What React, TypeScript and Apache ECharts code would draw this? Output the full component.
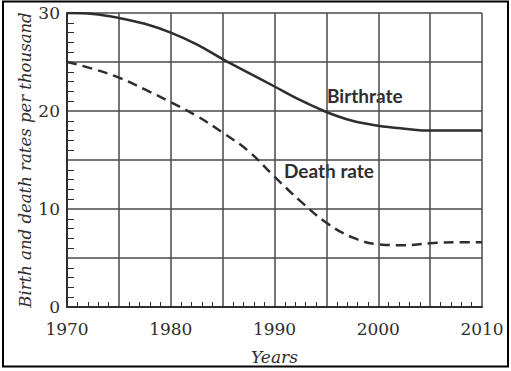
import React, { useEffect, useRef } from "react";
import * as echarts from "echarts";

const years = [1970, 1972.5, 1975, 1977.5, 1980, 1982.5, 1985, 1987.5, 1990, 1992.5, 1995, 1997.5, 2000, 2002.5, 2005, 2007.5, 2010];
const birthRate = [30, 29.9, 29.5, 28.9, 28.0, 26.8, 25.3, 23.9, 22.5, 21.1, 19.9, 19.0, 18.5, 18.2, 18.0, 18.0, 18.0];
const deathRate = [25, 24.3, 23.4, 22.2, 20.9, 19.5, 17.8, 15.9, 13.3, 10.8, 8.6, 7.1, 6.4, 6.3, 6.5, 6.6, 6.6];
const seriesNames = ["Birthrate", "Death rate"];
const xTitle = "Years";
const yTitle = "Birth and death rates per thousand";

export default function App() {
  const ref = useRef<HTMLDivElement>(null);
  useEffect(() => {
    if (!ref.current) return;
    const chart = echarts.init(ref.current, null, { renderer: "svg" });
    const ink = "#2e2e2e";
    const grid = "#4a4a4a";
    const serif = "DejaVu Serif";
    chart.setOption({
      animation: false,
      backgroundColor: "#ffffff",
      grid: { left: 67, right: 29, top: 13, bottom: 64 },
      xAxis: {
        type: "value",
        min: 1970,
        max: 2010,
        interval: 5,
        name: xTitle,
        nameLocation: "middle",
        nameGap: 41,
        nameMoveOverlap: false,
        nameTextStyle: { fontFamily: serif, fontStyle: "italic", fontSize: 17, color: ink },
        axisLine: { show: true, lineStyle: { color: ink, width: 2 } },
        axisTick: { show: false },
        minorTick: { show: true, splitNumber: 5, length: -5, lineStyle: { color: ink, width: 1 } },
        axisLabel: {
          fontFamily: serif,
          fontSize: 17,
          color: ink,
          margin: 13,
          formatter: (v: number) => (v % 10 === 0 ? String(v) : ""),
        },
        splitLine: { show: true, lineStyle: { color: grid, width: 1.5 } },
      },
      yAxis: {
        type: "value",
        min: 0,
        max: 30,
        interval: 5,
        name: yTitle,
        nameLocation: "middle",
        nameGap: 33,
        nameMoveOverlap: false,
        nameTextStyle: { fontFamily: serif, fontStyle: "italic", fontSize: 16.5, color: ink },
        axisLine: { show: true, lineStyle: { color: ink, width: 2 } },
        axisTick: { show: false },
        minorTick: { show: true, splitNumber: 5, length: -7, lineStyle: { color: ink, width: 1 } },
        axisLabel: {
          fontFamily: serif,
          fontSize: 17,
          color: ink,
          margin: 7,
          formatter: (v: number) => (v % 10 === 0 ? String(v) : ""),
        },
        splitLine: { show: true, lineStyle: { color: grid, width: 1.5 } },
      },
      series: [
        {
          name: seriesNames[0],
          type: "line",
          smooth: 0.4,
          symbol: "none",
          data: years.map((y, i) => [y, birthRate[i]]),
          lineStyle: { color: ink, width: 2.5 },
        },
        {
          name: seriesNames[1],
          type: "line",
          smooth: 0.4,
          symbol: "none",
          data: years.map((y, i) => [y, deathRate[i]]),
          lineStyle: { color: ink, width: 2.5, type: [10, 6] },
        },
      ],
      graphic: [
        {
          type: "rect",
          shape: { x: 3, y: 1.5, width: 505, height: 365 },
          style: { fill: "none", stroke: "#000", lineWidth: 2 },
          silent: true,
        },
        {
          type: "text",
          x: 327,
          y: 86,
          style: { text: seriesNames[0], font: "bold 19px Lato", fill: ink },
        },
        {
          type: "text",
          x: 284,
          y: 161,
          style: { text: seriesNames[1], font: "bold 19px Lato", fill: ink },
        },
      ],
    });
    return () => chart.dispose();
  }, []);
  return (
    <div
      ref={ref}
      style={{ position: "fixed", left: 0, top: 0, width: 511, height: 371, background: "#fff" }}
    />
  );
}
